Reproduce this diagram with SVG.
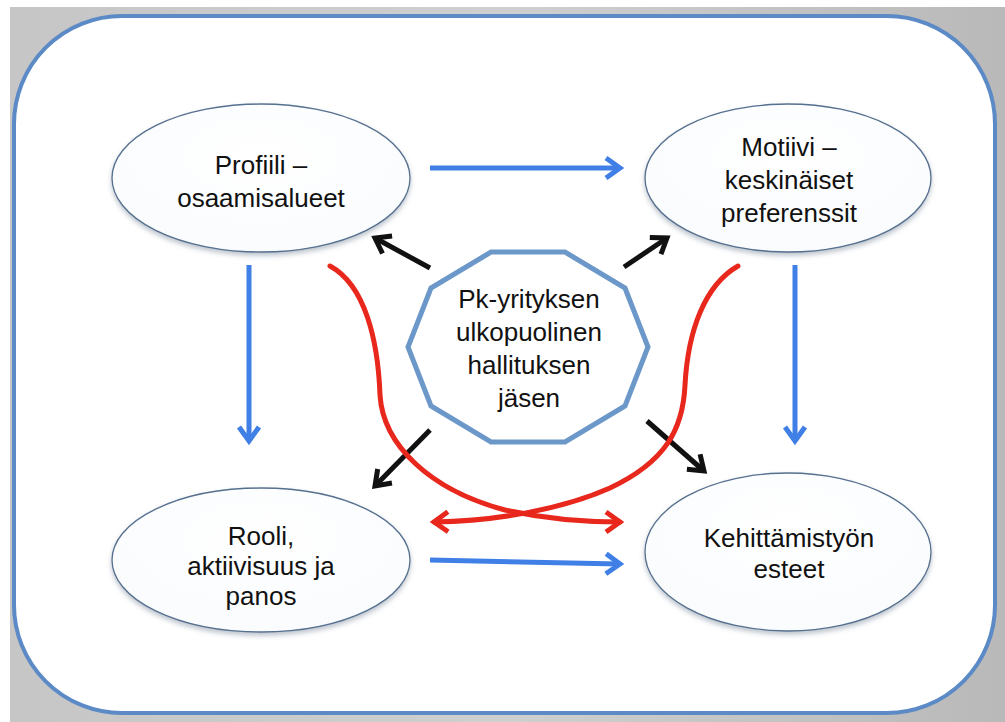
<svg xmlns="http://www.w3.org/2000/svg" width="1005" height="722" viewBox="0 0 1005 722">
  <defs>
    <linearGradient id="bg" x1="0" y1="0" x2="1" y2="0">
      <stop offset="0" stop-color="#c6c6c6"/>
      <stop offset="0.5" stop-color="#cfcfcf"/>
      <stop offset="1" stop-color="#b9b9b9"/>
    </linearGradient>
    <radialGradient id="ef" cx="0.5" cy="0.35" r="0.7">
      <stop offset="0" stop-color="#ffffff"/>
      <stop offset="1" stop-color="#f9fbfd"/>
    </radialGradient>
    <filter id="sh" x="-10%" y="-10%" width="120%" height="130%">
      <feDropShadow dx="0" dy="3" stdDeviation="2.5" flood-color="#6a7a90" flood-opacity="0.45"/>
    </filter>
    <marker id="ab" markerUnits="userSpaceOnUse" markerWidth="30" markerHeight="30" viewBox="-20 -15 30 30" refX="0" refY="0" orient="auto">
      <path d="M-14,-10 L0,0 L-14,10" fill="none" stroke="#3f7fe6" stroke-width="5" stroke-linejoin="miter"/>
    </marker>
    <marker id="ak" markerUnits="userSpaceOnUse" markerWidth="30" markerHeight="30" viewBox="-20 -15 30 30" refX="0" refY="0" orient="auto">
      <path d="M-14,-10 L0,0 L-14,10" fill="none" stroke="#111" stroke-width="5" stroke-linejoin="miter"/>
    </marker>
    <marker id="ar" markerUnits="userSpaceOnUse" markerWidth="30" markerHeight="30" viewBox="-20 -15 30 30" refX="0" refY="0" orient="auto">
      <path d="M-14,-10 L0,0 L-14,10" fill="none" stroke="#e8271d" stroke-width="5" stroke-linejoin="miter"/>
    </marker>
    <style>
      .node { fill: url(#ef); stroke: #56708f; stroke-width: 1.3; filter: url(#sh); }
      .lbl { font-family: "Liberation Sans", Arial, sans-serif; font-size: 26px; fill: #111; text-anchor: middle; }
      .blue { fill: none; stroke: #3f7fe6; stroke-width: 5; marker-end: url(#ab); }
      .black { fill: none; stroke: #111; stroke-width: 5; marker-end: url(#ak); }
      .red { fill: none; stroke: #e8271d; stroke-width: 5; stroke-linecap: round; marker-end: url(#ar); }
    </style>
  </defs>

  <rect x="0" y="0" width="1005" height="722" fill="#ffffff"/>
  <rect x="10" y="7" width="995" height="715" fill="url(#bg)"/>
  <rect x="14" y="16" width="981" height="697" rx="108" ry="108" fill="#ffffff" stroke="#5b8ac6" stroke-width="4"/>

  <g id="connectors">
    <line class="blue" x1="430" y1="168" x2="620" y2="168"/>
    <line class="blue" x1="430" y1="560" x2="620" y2="564"/>
    <line class="blue" x1="249" y1="265" x2="249" y2="441"/>
    <line class="blue" x1="795" y1="265" x2="795" y2="441"/>
    <line class="black" x1="430" y1="268" x2="375" y2="238"/>
    <line class="black" x1="624" y1="267" x2="667" y2="238"/>
    <line class="black" x1="430" y1="430" x2="375" y2="486"/>
    <line class="black" x1="647" y1="421" x2="704" y2="471"/>
    <path class="red" d="M330,266 C365,285 378,340 380,395 C383,445 430,490 505,510 C550,520 590,522 620,522"/>
    <path class="red" d="M738,266 C705,285 688,330 685,385 C683,430 665,462 610,488 C565,508 500,521 434,522"/>
  </g>

  <g id="hub">
    <polygon points="648,347 625,288 565,252 491,252 431,288 408,347 431,406 491,442 565,442 625,406" fill="#ffffff" stroke="#6b97c9" stroke-width="5" stroke-linejoin="miter"/>
    <text class="lbl" x="529" y="308">Pk-yrityksen</text>
    <text class="lbl" x="529" y="341">ulkopuolinen</text>
    <text class="lbl" x="529" y="374">hallituksen</text>
    <text class="lbl" x="529" y="407">jäsen</text>
  </g>

  <g id="profiili">
    <ellipse class="node" cx="261" cy="178" rx="149" ry="74"/>
    <text class="lbl" x="261" y="174">Profiili –</text>
    <text class="lbl" x="261" y="207">osaamisalueet</text>
  </g>

  <g id="motiivi">
    <ellipse class="node" cx="788" cy="178" rx="143" ry="74"/>
    <text class="lbl" x="789" y="156">Motiivi –</text>
    <text class="lbl" x="789" y="189">keskinäiset</text>
    <text class="lbl" x="789" y="222">preferenssit</text>
  </g>

  <g id="rooli">
    <ellipse class="node" cx="261" cy="560" rx="149" ry="72"/>
    <text class="lbl" x="261" y="545">Rooli,</text>
    <text class="lbl" x="261" y="575">aktiivisuus ja</text>
    <text class="lbl" x="261" y="605">panos</text>
  </g>

  <g id="kehittamistyon">
    <ellipse class="node" cx="788" cy="552" rx="143" ry="79"/>
    <text class="lbl" x="789" y="547">Kehittämistyön</text>
    <text class="lbl" x="789" y="578">esteet</text>
  </g>
</svg>
